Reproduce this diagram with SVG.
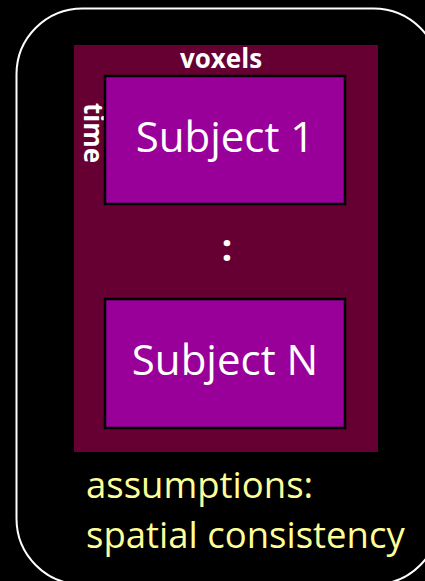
<svg xmlns="http://www.w3.org/2000/svg" width="425" height="581" viewBox="0 0 425 581">
  <style>
    .frame { fill: none; stroke: #ffffff; stroke-width: 2; }
    .matrix { fill: #660033; }
    .subject { fill: #990099; stroke: #000000; stroke-width: 2.5; }
    .label { font-family: "Open Sans", "Noto Sans", sans-serif; fill: #ffffff; }
    .axis { font-size: 26px; font-weight: bold; }
    .big { font-size: 42px; }
    .note { font-family: "Open Sans", "Noto Sans", sans-serif; font-size: 36.5px; fill: #ffff99; }
  </style>
  <rect x="0" y="0" width="425" height="581" fill="#000000"/>

  <!-- outer rounded frame -->
  <rect class="frame" x="16.5" y="8.5" width="423" height="576" rx="66" ry="66"/>

  <!-- data matrix: time x voxels -->
  <g id="matrix">
    <rect class="matrix" x="74" y="45" width="304" height="407"/>
    <text class="label axis" x="221" y="68" text-anchor="middle">voxels</text>
    <text class="label axis" transform="translate(84,133) rotate(90)" text-anchor="middle">time</text>
    <text class="label" x="227" y="261" text-anchor="middle" font-size="38" font-weight="bold">:</text>
  </g>

  <g id="subject-1">
    <rect class="subject" x="105" y="76" width="240" height="128"/>
    <text class="label big" x="225" y="152" text-anchor="middle">Subject 1</text>
  </g>

  <g id="subject-n">
    <rect class="subject" x="105" y="299" width="240" height="129"/>
    <text class="label big" x="225" y="375" text-anchor="middle">Subject N</text>
  </g>

  <g id="connectors"></g>

  <g id="assumptions">
    <text class="note" x="86" y="498">assumptions:</text>
    <text class="note" x="86" y="548">spatial consistency</text>
  </g>
</svg>
